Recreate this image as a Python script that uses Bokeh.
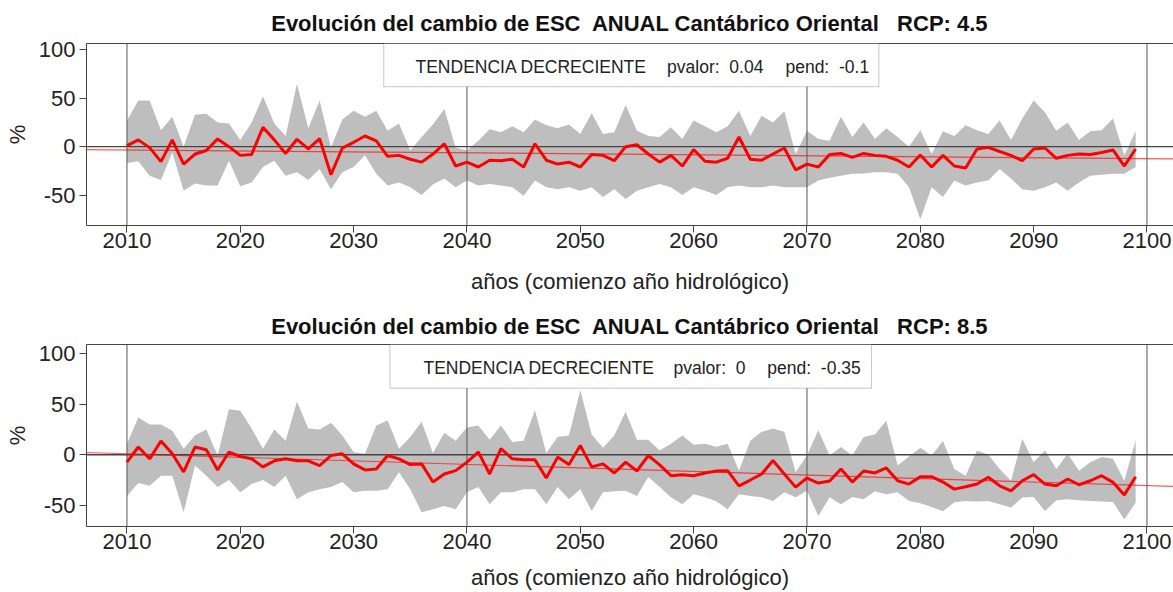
from bokeh.plotting import figure
from bokeh.models import (Range1d, FixedTicker, LinearAxis, Span, Slope,
                          BoxAnnotation, Label, ColumnDataSource)
from bokeh.layouts import column
from bokeh.embed import file_html
from bokeh.resources import INLINE

years = list(range(2010, 2100))

# ---------------- RCP 4.5 ----------------
mean45 = [1, 7, -1, -15.5, 7, -18, -7.6, -4, 8, 0,
          -9, -8, 20, 7, -7, 7.6, -2.4, 8.3, -29, -1.4,
          4.5, 11, 6, -10, -9, -13, -16, -7.6, 3, -20,
          -16, -21, -14, -14.5, -13, -21, 3, -14, -18, -16,
          -21, -8, -9, -14.5, 0, 2, -7.6, -16, -9, -20,
          -3, -15, -16, -12, 10, -13, -14, -7.6, -1.4, -24,
          -18, -21, -8, -7, -11, -7, -9, -10, -14, -21,
          -8.6, -21, -9, -20, -22, -2.4, -0.7, -5, -9, -14.5,
          -2.4, -1.4, -12, -9, -7.6, -8, -6, -3.4, -20, -2.4]
upper45 = [27, 47.6, 47.6, 17, 31, 0, 33, 34, 25, 24,
           7, 25, 52, 24, 11, 65, 19, 47.6, -1, 28,
           37, 31, 37, 16.5, 24, -4, 10, 23, 39, -1,
           -4, 6, 18, 15, 21, 15, 28, 22, 19, 23,
           13, 34.5, 13, 15, 43, 16.5, 11, 10, 20, 8,
           27, 21, 15, 21, 37, 11, 32, 25, 36.5, -7.6,
           16.5, 8, 6, 31, 10, 25, 8, 19, 10, 0,
           17, -7.6, 16, 11, 22, 17, 13, 27, 7, 29,
           47.6, 35.5, 16.5, 25, 7, 16, 17, 29, -9, 16]
lower45 = [-17, -15, -30, -34.5, -6, -45.5, -38, -40, -40, -14.5,
           -41, -37, -21, -14.5, -30, -26.5, -34.5, -23, -44, -26.5,
           -21, -9, -28, -40, -37, -42, -50, -39, -33, -42,
           -35, -40, -38.6, -40, -42, -50.7, -35, -42, -44, -42,
           -45.5, -42, -52, -44, -54, -45.5, -42, -38.6, -42, -50,
           -42, -45.5, -50, -42, -40, -42, -42, -40, -42, -42,
           -42, -35, -32, -30, -28, -27.6, -26.5, -26.5, -28, -42,
           -75, -42, -52, -35, -40, -37, -35, -23, -33, -44,
           -45.5, -42, -37, -45.5, -37, -30, -29, -28, -28, -21]
trend45_at_2010 = -3.4
pend45 = -0.1
pvalor45 = "0.04"

# ---------------- RCP 8.5 ----------------
mean85 = [-7.3, 7.7, -4, 13.7, 1, -17, 7.7, 5, -15, 2.7,
          -1.7, -4, -12, -6, -4, -6, -6, -10.7, -0.7, 1,
          -9, -15, -14, -0.7, -4, -9.7, -9, -27, -19, -15.7,
          -7.3, 2.7, -19, 6, -4, -5, -5, -23, -2.3, -9.7,
          9.3, -12, -9, -18, -7.3, -16, -0.7, -10, -20.7, -19.7,
          -20.7, -18, -16, -15.7, -30.7, -25, -19, -5.7, -19, -32,
          -23, -28, -26, -14, -27, -16, -18, -13, -25.7, -29,
          -21.7, -21.7, -27, -34, -31.7, -29, -22.3, -30.7, -35.7, -25.7,
          -19.7, -29, -30.7, -24, -29.7, -25.7, -20.7, -27.3, -39.7, -21.7]
upper85 = [11, 37, 30, 30, 23.7, 6, 19, 25, -0.7, 45,
           43.7, 26, 6, 25, 14, 52.7, 26, 25, 31.7, 19,
           2.7, 1, 29, 34, 6, 17.7, 32.7, 1.7, 21.7, 14,
           27, 29, 15, 29, 12.7, 14, 44, 1.7, 17.7, 19,
           64, 20, 7, 19, 42.7, 15, 15, 4.3, 11, 19,
           10, 11, 8, 11, -15.7, 14, 22.7, 26, 22.7, -17.3,
           -0.7, 24.3, -0.7, 7.7, -0.7, 17.7, 20, 33.7, -10.7, -1.7,
           7, -0.7, 13.7, -14, -20.7, 4.3, 0, -14, -25.7, 16,
           -7.3, 4.3, -14, 1, -15.7, -7.3, -2.3, -4, -25.7, 14.3]
lower85 = [-40.7, -28, -30.7, -20.7, -20.7, -57, -10.7, -20.7, -32, -25,
           -37, -29, -25, -32, -20.7, -44, -37, -34, -32, -27,
           -37, -35.7, -35.7, -34, -17.3, -34, -57, -54, -50.7, -54,
           -37, -32, -49, -37, -37, -34, -34, -49, -32, -44,
           -34, -55.7, -37, -36, -35.7, -40.7, -22, -32, -42, -49,
           -39, -42, -46, -54, -39, -40.7, -42, -45.7, -37, -42,
           -35.7, -60.7, -42, -49, -41.7, -44, -36, -39, -37, -45.7,
           -48, -51.7, -56, -47, -45.7, -46.3, -45.7, -49, -52.3, -42.3,
           -41.7, -55.7, -45, -44, -45, -45.7, -46.3, -46.7, -64, -47.3]
trend85_at_2010 = 1.0
pend85 = -0.35
pvalor85 = "0"

x_ticks = list(range(2010, 2101, 10))
y_ticks = [-50, 0, 50, 100]
v_lines = [2010, 2040, 2070, 2100]
trend_label = "TENDENCIA DECRECIENTE"
x_label = "años (comienzo año hidrológico)"
y_label = "%"
NB = "\u00a0"

FONT = "Liberation Sans"


def make_panel(title, mean, lower, upper, t2010, pend, pvalor,
               yr, height, bt, bb, box, lab_x, lab_y, title_standoff, xlab_standoff):
    p = figure(width=1173, height=height, output_backend="svg",
               toolbar_location=None,
               x_range=Range1d(2006.43, 2102.34), y_range=Range1d(*yr),
               min_border_left=86, min_border_right=0,
               min_border_top=bt, min_border_bottom=bb)
    p.background_fill_color = "white"
    p.border_fill_color = "white"
    p.outline_line_color = None
    p.grid.visible = False

    src = ColumnDataSource(dict(year=years, mean=mean, lower=lower, upper=upper))
    p.varea(x="year", y1="lower", y2="upper", source=src,
            fill_color="#BEBEBE", level="image")

    for v in v_lines:
        p.add_layout(Span(location=v, dimension="height", line_color="#555555",
                          line_width=1, level="underlay"))
    p.add_layout(Span(location=0, dimension="width", line_color="#444444",
                      line_width=1.4, level="underlay"))
    p.add_layout(Slope(gradient=pend, y_intercept=t2010 - pend * 2010,
                       line_color="#FF0000", line_alpha=0.65, line_width=1.2,
                       level="underlay"))

    p.line("year", "mean", source=src, line_color="#FF0000", line_width=3)

    p.add_layout(BoxAnnotation(left=box[0], right=box[1], bottom=box[2], top=yr[1],
                               fill_color="white", fill_alpha=1.0,
                               line_color="#444444", line_width=1,
                               level="annotation"))
    texts = [trend_label, "pvalor:" + NB + " " + pvalor, "pend:" + NB + " " + str(pend)]
    for xx, tt in zip(lab_x, texts):
        p.add_layout(Label(x=xx, y=lab_y, text=tt, text_font=FONT,
                           text_font_size="17.5px", text_color="#222222",
                           text_baseline="middle", text_align="left",
                           level="overlay"))

    xa = p.xaxis[0]
    xa.ticker = FixedTicker(ticks=x_ticks)
    ya = p.yaxis[0]
    ya.ticker = FixedTicker(ticks=y_ticks)
    ya.major_label_overrides = {t: str(t) for t in y_ticks}
    for ax in (xa, ya):
        ax.axis_line_color = "#444444"
        ax.major_tick_line_color = "#444444"
        ax.major_tick_out = 7
        ax.major_tick_in = 0
        ax.minor_tick_out = 0
        ax.minor_tick_in = 0
        ax.major_label_text_font = FONT
        ax.major_label_text_font_size = "22px"
        ax.major_label_text_color = "#222222"
        ax.axis_label_text_font = FONT
        ax.axis_label_text_font_size = "22px"
        ax.axis_label_text_font_style = "normal"
        ax.axis_label_text_color = "#222222"
    xa.axis_label = x_label
    xa.major_label_standoff = 0
    xa.axis_label_standoff = xlab_standoff
    ya.axis_label = y_label
    ya.major_label_standoff = 4
    ya.axis_label_standoff = 6

    top = LinearAxis(ticker=FixedTicker(ticks=[]), major_label_text_font_size="0px",
                     major_tick_out=0, major_tick_in=0, minor_tick_out=0,
                     minor_tick_in=0, major_label_standoff=0,
                     axis_line_color="#444444")
    p.add_layout(top, "above")

    p.title.text = title
    p.title.align = "center"
    p.title.text_font = FONT
    p.title.text_font_size = "22px"
    p.title.text_font_style = "bold"
    p.title.text_color = "#111111"
    p.title.standoff = title_standoff
    return p


t1 = "Evolución del cambio de ESC" + NB + " ANUAL Cantábrico Oriental" + NB + NB + " RCP: 4.5"
t2 = "Evolución del cambio de ESC" + NB + " ANUAL Cantábrico Oriental" + NB + NB + " RCP: 8.5"

p1 = make_panel(t1, mean45, lower45, upper45, trend45_at_2010, pend45, pvalor45,
                (-81.4, 106.5), 300, 43, 75,
                (2032.66, 2076.34, 61.9), (2035.46, 2057.66, 2068.1), 82.5, 16, 18)
p2 = make_panel(t2, mean85, lower85, upper85, trend85_at_2010, pend85, pvalor85,
                (-71.0, 109.2), 292, 44, 66,
                (2033.2, 2075.7, 65.9), (2036.16, 2058.22, 2066.5), 86.1, 12, 13)

layout = column(p1, p2)
open("out.html", "w").write(file_html(layout, INLINE))
